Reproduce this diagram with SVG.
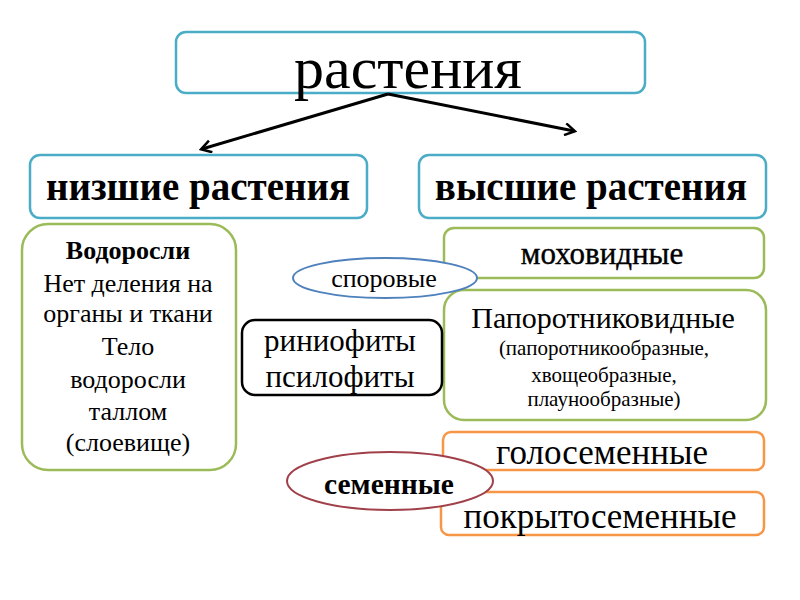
<svg xmlns="http://www.w3.org/2000/svg" width="800" height="600" viewBox="0 0 800 600">
<defs>
<style>
.teal{fill:#fff;stroke:#4bacc6;stroke-width:2.5}
.green{fill:#fff;stroke:#9bbb59;stroke-width:2.5}
.orange{fill:#fff;stroke:#f79646;stroke-width:2.5}
.black{fill:#fff;stroke:#000;stroke-width:2.5}
.conn{fill:none;stroke:#000;stroke-width:3}
</style>
<marker id="ah" markerWidth="14" markerHeight="14" refX="11" refY="7" orient="auto" markerUnits="userSpaceOnUse">
<path d="M2,1 L12,7 L2,13" fill="none" stroke="#000" stroke-width="2.5"/>
</marker>
</defs>
<rect width="800" height="600" fill="#fff"/>
<g id="n-root"><rect class="teal" x="176" y="32" width="469" height="61" rx="10"/><text font-family="Liberation Serif" text-anchor="middle" x="408" y="88" font-size="60">растения</text></g>
<g id="connectors">
<path class="conn" d="M388,94 L202,149" marker-end="url(#ah)"/>
<path class="conn" d="M388,94 L574,131" marker-end="url(#ah)"/>
</g>
<g id="n-lower"><rect class="teal" x="30" y="155" width="337" height="63" rx="10"/><text font-family="Liberation Serif" font-weight="bold" text-anchor="middle" x="198" y="200" font-size="39">низшие растения</text></g>
<g id="n-higher"><rect class="teal" x="419" y="155" width="347" height="63" rx="10"/><text font-family="Liberation Serif" font-weight="bold" text-anchor="middle" x="591" y="200" font-size="39">высшие растения</text></g>
<g id="n-algae"><rect class="green" x="22" y="224" width="214" height="246" rx="26"/>
<text font-family="Liberation Serif" text-anchor="middle" font-size="26"><tspan font-weight="bold" x="128" y="259">Водоросли</tspan><tspan x="128" y="292">Нет деления на</tspan><tspan x="128" y="322">органы и ткани</tspan><tspan x="128" y="355">Тело</tspan><tspan x="128" y="388">водоросли</tspan><tspan x="128" y="420">таллом</tspan><tspan x="128" y="451">(слоевище)</tspan></text></g>
<g id="n-moss"><rect class="green" x="444" y="228" width="320" height="50" rx="10"/><text font-family="Liberation Serif" text-anchor="middle" x="602" y="264" font-size="31" stroke="#000" stroke-width="0.4">моховидные</text></g>
<g id="n-ferns"><rect class="green" x="444" y="290" width="322" height="130" rx="20"/>
<text font-family="Liberation Serif" text-anchor="middle" font-size="30" x="603" y="328">Папоротниковидные</text>
<text font-family="Liberation Serif" text-anchor="middle" font-size="21"><tspan x="604" y="355">(папоротникообразные,</tspan><tspan x="604" y="382">хвощеобразные,</tspan><tspan x="604" y="406">плаунообразные)</tspan></text></g>
<g id="n-spore"><ellipse cx="385" cy="278" rx="92" ry="20" fill="#fff" stroke="#4f81bd" stroke-width="2"/><text font-family="Liberation Serif" text-anchor="middle" x="384" y="287" font-size="26">споровые</text></g>
<g id="n-rhynio"><rect class="black" x="242" y="320" width="200" height="75" rx="13"/>
<text font-family="Liberation Serif" text-anchor="middle" font-size="31"><tspan x="340" y="351">риниофиты</tspan><tspan x="340" y="387">псилофиты</tspan></text></g>
<g id="n-gymno"><rect class="orange" x="443" y="432" width="321" height="38" rx="8"/><text font-family="Liberation Serif" text-anchor="middle" x="602" y="464" font-size="35">голосеменные</text></g>
<g id="n-angio"><rect class="orange" x="441" y="492" width="323" height="43" rx="8"/><text font-family="Liberation Serif" text-anchor="middle" x="600" y="528" font-size="35">покрытосеменные</text></g>
<g id="n-seed"><ellipse cx="390" cy="481" rx="103" ry="29" fill="#fff" stroke="#a0404a" stroke-width="2"/><text font-family="Liberation Serif" text-anchor="middle" x="389" y="494" font-size="29.5" font-weight="bold">семенные</text></g>
</svg>
